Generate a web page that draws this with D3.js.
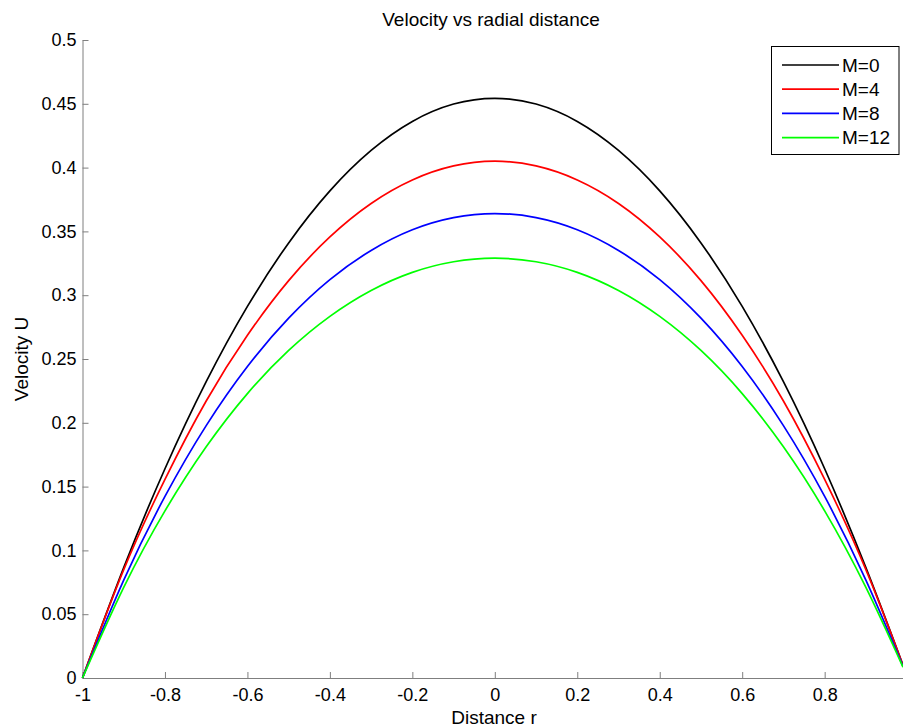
<!DOCTYPE html>
<html><head><meta charset="utf-8">
<script src="https://cdn.jsdelivr.net/npm/d3@7"></script>
<style>
body{margin:0;background:#fff;}
text{font-family:"Liberation Sans",Arial,sans-serif;fill:#000;}
</style></head>
<body>
<svg id="chart" width="903" height="727"></svg>
<script>
const r = [-1, -0.9, -0.8, -0.7, -0.6, -0.5, -0.4, -0.3, -0.2, -0.1, 0, 0.1, 0.2, 0.3, 0.4, 0.5, 0.6, 0.7, 0.8, 0.9, 0.99];
const seriesNames = ["M=0", "M=4", "M=8", "M=12"];
const seriesColors = ["#000000", "#ff0000", "#0000ff", "#00ff00"];
const uM0  = [0, 0.0865, 0.1640, 0.2322, 0.2912, 0.3410, 0.3818, 0.4135, 0.4362, 0.4498, 0.4543, 0.4498, 0.4362, 0.4135, 0.3818, 0.3410, 0.2912, 0.2322, 0.1640, 0.0865, 0.0100];
const uM4  = [0, 0.0849, 0.1557, 0.2171, 0.2686, 0.3114, 0.3457, 0.3719, 0.3903, 0.4013, 0.4050, 0.4013, 0.3903, 0.3719, 0.3457, 0.3114, 0.2686, 0.2171, 0.1557, 0.0849, 0.0098];
const uM8  = [0, 0.0767, 0.1423, 0.1978, 0.2441, 0.2820, 0.3122, 0.3351, 0.3513, 0.3608, 0.3640, 0.3608, 0.3513, 0.3351, 0.3122, 0.2820, 0.2441, 0.1978, 0.1423, 0.0767, 0.0090];
const uM12 = [0, 0.0710, 0.1310, 0.1812, 0.2229, 0.2567, 0.2834, 0.3037, 0.3179, 0.3262, 0.3290, 0.3262, 0.3179, 0.3037, 0.2834, 0.2567, 0.2229, 0.1812, 0.1310, 0.0710, 0.0085];
const xTicks = [-1, -0.8, -0.6, -0.4, -0.2, 0, 0.2, 0.4, 0.6, 0.8];
const yTicks = [0, 0.05, 0.1, 0.15, 0.2, 0.25, 0.3, 0.35, 0.4, 0.45, 0.5];
const xTickLabels = ["-1", "-0.8", "-0.6", "-0.4", "-0.2", "0", "0.2", "0.4", "0.6", "0.8"];
const yTickLabels = ["0", "0.05", "0.1", "0.15", "0.2", "0.25", "0.3", "0.35", "0.4", "0.45", "0.5"];

const svg = d3.select("#chart");
const L = 82.5, R = 903, T = 40, B = 678;
const x = d3.scaleLinear().domain([-1, 0.99]).range([L, R]);
const y = d3.scaleLinear().domain([0, 0.5]).range([B, T]);
const axisColor = "#7f7f7f";
const fs = 18, fs2 = 19;

// x axis
const gx = svg.append("g").attr("transform", `translate(0,${B})`)
  .call(d3.axisBottom(x).tickValues(xTicks).tickFormat((d,i)=>xTickLabels[i]).tickSizeInner(-6).tickSizeOuter(0).tickPadding(10));
gx.select(".domain").attr("stroke", axisColor);
gx.selectAll(".tick line").attr("stroke", axisColor);
gx.selectAll("text").attr("font-size", fs).attr("fill", "#000").style("font-family", "Liberation Sans, Arial, sans-serif");

// y axis
const gy = svg.append("g").attr("transform", `translate(${L},0)`)
  .call(d3.axisLeft(y).tickValues(yTicks).tickFormat((d,i)=>yTickLabels[i]).tickSizeInner(-6).tickSizeOuter(0).tickPadding(6));
gy.select(".domain").attr("stroke", axisColor);
gy.selectAll(".tick line").attr("stroke", axisColor);
gy.selectAll("text").attr("font-size", fs).attr("fill", "#000").style("font-family", "Liberation Sans, Arial, sans-serif");

// lines
const allSeries = [uM0, uM4, uM8, uM12];
const line = d3.line().x((d,i)=>x(r[i])).y(d=>y(d)).curve(d3.curveNatural);
allSeries.forEach((s, k) => {
  svg.append("path").datum(s).attr("d", line)
    .attr("fill", "none").attr("stroke", seriesColors[k]).attr("stroke-width", 1.7);
});

// title and labels
svg.append("text").attr("x", 491).attr("y", 26).attr("text-anchor", "middle").attr("font-size", fs2).text("Velocity vs radial distance");
svg.append("text").attr("x", 494).attr("y", 724).attr("text-anchor", "middle").attr("font-size", fs2).text("Distance r");
svg.append("text").attr("transform", "translate(28,359) rotate(-90)").attr("text-anchor", "middle").attr("font-size", fs2).text("Velocity U");

// legend
const lg = svg.append("g");
lg.append("rect").attr("x", 771.5).attr("y", 46.5).attr("width", 127.5).attr("height", 108)
  .attr("fill", "#fff").attr("stroke", "#000").attr("stroke-width", 1);
seriesNames.forEach((n, k) => {
  const yy = 65 + k * 24.2;
  lg.append("line").attr("x1", 782).attr("x2", 839).attr("y1", yy).attr("y2", yy)
    .attr("stroke", seriesColors[k]).attr("stroke-width", 1.7);
  lg.append("text").attr("x", 842).attr("y", yy + 6.5).attr("font-size", fs2).text(n);
});
</script>
</body></html>
